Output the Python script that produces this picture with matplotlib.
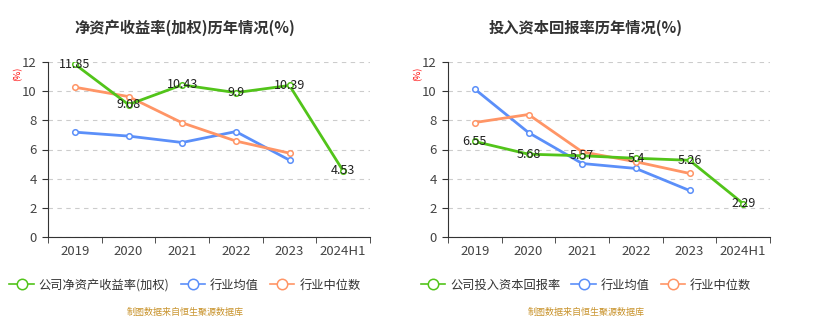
import matplotlib.pyplot as plt
from matplotlib.lines import Line2D

plt.rcParams['font.family'] = ['Noto Sans CJK SC', 'DejaVu Sans']

years = ['2019', '2020', '2021', '2022', '2023', '2024H1']

# left chart: ROE (weighted)
roe_company = [11.85, 9.08, 10.43, 9.9, 10.39, 4.53]
roe_mean = [7.19, 6.92, 6.48, 7.23, 5.27]
roe_median = [10.27, 9.63, 7.83, 6.58, 5.75]

# right chart: ROIC
roic_company = [6.55, 5.68, 5.57, 5.4, 5.26, 2.29]
roic_mean = [10.14, 7.16, 5.04, 4.70, 3.19]
roic_median = [7.85, 8.40, 5.84, 5.16, 4.36]

GREEN = '#52c41a'
BLUE = '#5b8ff9'
ORANGE = '#ff9566'
AXIS = '#333333'


def draw(fig, ax, title, title_x, company, mean, median, company_name):
  x_all = range(len(years))
  ax.plot(range(len(mean)), mean, color=BLUE, lw=2, marker='o', ms=4,
          mfc='white', mew=1.1, zorder=3)
  ax.plot(range(len(median)), median, color=ORANGE, lw=2, marker='o', ms=4,
          mfc='white', mew=1.1, zorder=3)
  ax.plot(x_all, company, color=GREEN, lw=2, marker='o', ms=4,
          mfc='white', mew=1.1, zorder=4)
  for i, v in enumerate(company):
    ax.text(i, v, f'{v:g}', ha='center', va='center', fontsize=9,
            color='#222222', zorder=5)

  ax.set_xlim(-0.5, len(years) - 0.5)
  ax.set_ylim(0, 12)
  ax.set_yticks(range(0, 13, 2))
  ax.set_xticks(x_all)
  ax.set_xticklabels(years)
  ax.set_xticks([i - 0.5 for i in range(len(years) + 1)], minor=True)
  ax.tick_params(axis='x', which='major', length=0, pad=6)
  ax.tick_params(axis='x', which='minor', length=4, color=AXIS)
  ax.tick_params(axis='y', length=4, color=AXIS, pad=4)
  ax.tick_params(labelsize=9.5, labelcolor='#444444')
  ax.grid(axis='y', ls=(0, (4, 4)), color='#cccccc', lw=0.8)
  for s in ['top', 'right']:
    ax.spines[s].set_visible(False)
  for s in ['left', 'bottom']:
    ax.spines[s].set_color(AXIS)
  fig.text(title_x, 1 - 28 / 335, title, fontsize=11, fontweight='bold',
           color='#333333', ha='center', va='center')
  ax.text(-0.095, 0.93, '(%)', transform=ax.transAxes, rotation=90,
          color='red', fontsize=6.5, ha='center', va='center')

  handles = [Line2D([], [], color=c, lw=1.2, marker='o', ms=7.5, mfc='white', mew=1.1)
             for c in (GREEN, BLUE, ORANGE)]
  ax.legend(handles, [company_name, '行业均值', '行业中位数'], loc='center',
            bbox_to_anchor=(title_x, 1 - 285 / 335), bbox_transform=fig.transFigure,
            ncol=3, frameon=False, fontsize=8.8, handlelength=2.0,
            handletextpad=0.4, columnspacing=0.9, labelcolor='#333333')
  fig.text(title_x, 1 - 312 / 335, '制图数据来自恒生聚源数据库',
           ha='center', va='center', fontsize=6.5, color='#c8922a')


def main():
  fig = plt.figure(figsize=(8.14, 3.35), dpi=100)
  ax1 = fig.add_axes([48 / 814, 1 - 237 / 335, 322 / 814, 175 / 335])
  ax2 = fig.add_axes([448 / 814, 1 - 237 / 335, 322 / 814, 175 / 335])
  draw(fig, ax1, '净资产收益率(加权)历年情况(%)', 185 / 814, roe_company, roe_mean,
       roe_median, '公司净资产收益率(加权)')
  draw(fig, ax2, '投入资本回报率历年情况(%)', 586 / 814, roic_company, roic_mean,
       roic_median, '公司投入资本回报率')
  fig.savefig('out.png', dpi=100)


if __name__ == '__main__':
  main()
